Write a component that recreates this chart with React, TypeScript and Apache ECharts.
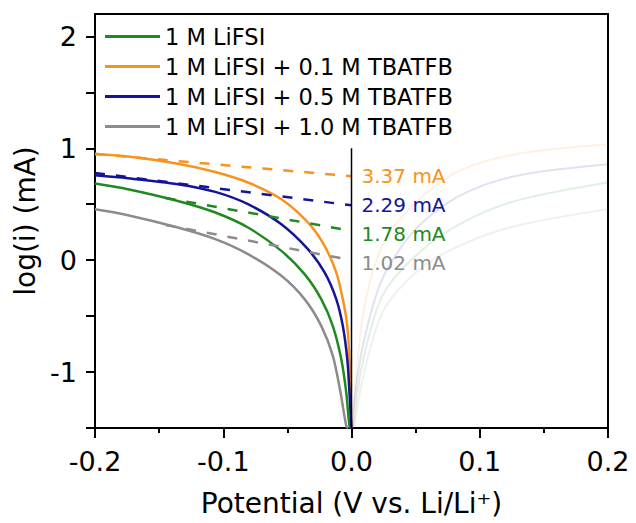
import React, { useEffect, useRef } from "react";
import * as echarts from "echarts";

// ---- data (potential V, log(i) mA) ----
const seriesNames = [
  "1 M LiFSI",
  "1 M LiFSI + 0.1 M TBATFB",
  "1 M LiFSI + 0.5 M TBATFB",
  "1 M LiFSI + 1.0 M TBATFB",
];
const seriesColors = ["#1f8a1f", "#f7931e", "#14149a", "#8c8c8c"];

const liFSI: number[][] = [
  [-0.2, 0.685], [-0.1743, 0.634], [-0.1354, 0.529], [-0.1062, 0.426], [-0.0807, 0.292],
  [-0.0547, 0.083], [-0.0366, -0.125], [-0.0236, -0.348], [-0.0146, -0.587], [-0.008, -0.884],
  [-0.0041, -1.181], [-0.0016, -1.479], [0, -1.5],
];
const tb01: number[][] = [
  [-0.2, 0.946], [-0.1743, 0.926], [-0.1354, 0.862], [-0.1062, 0.788], [-0.0807, 0.694],
  [-0.0547, 0.545], [-0.034, 0.337], [-0.021, 0.128], [-0.0119, -0.11], [-0.0068, -0.348],
  [-0.0033, -0.587], [-0.0016, -0.884], [-0.0008, -1.179], [-0.0002, -1.479], [0, -1.5],
];
const tb05: number[][] = [
  [-0.2, 0.758], [-0.1743, 0.732], [-0.1354, 0.679], [-0.1062, 0.61], [-0.0807, 0.5],
  [-0.0547, 0.321], [-0.034, 0.098], [-0.021, -0.11], [-0.0119, -0.348], [-0.0068, -0.587],
  [-0.0033, -0.884], [-0.0016, -1.179], [-0.0002, -1.479], [0, -1.5],
];
const tb10: number[][] = [
  [-0.2, 0.455], [-0.1743, 0.402], [-0.1354, 0.292], [-0.1062, 0.188], [-0.0807, 0.054],
  [-0.0547, -0.14], [-0.0366, -0.348], [-0.0236, -0.587], [-0.0146, -0.854], [-0.0086, -1.181],
  [-0.0041, -1.479], [-0.0025, -1.5],
];

// Tafel extrapolation lines
const fitLiFSI: number[][] = [[-0.145, 0.556], [0, 0.262]];
const fit01: number[][] = [[-0.2, 0.95], [0, 0.75]];
const fit05: number[][] = [[-0.2, 0.78], [0, 0.49]];
const fit10: number[][] = [[-0.145, 0.315], [0, 0.0]];
const fitLabels = ["1.78 mA", "3.37 mA", "2.29 mA", "1.02 mA"];
const fitLabelShift = [3, 0, 0, 3];

// faint anodic branches
const faintLiFSI: number[][] = [
  [0.001, -1.5], [0.0088, -0.91], [0.024, -0.32], [0.05, 0.04], [0.084, 0.32], [0.128, 0.53], [0.2, 0.694],
];
const faint01: number[][] = [
  [0.0008, -1.5], [0.0088, -0.5], [0.024, 0.128], [0.05, 0.515], [0.084, 0.797], [0.128, 0.946], [0.2, 1.036],
];
const faint05: number[][] = [
  [0.0005, -1.5], [0.001, -1.36], [0.0088, -0.77], [0.024, -0.17], [0.05, 0.277], [0.084, 0.574], [0.128, 0.753], [0.2, 0.857],
];
const faint10: number[][] = [
  [0.002, -1.5], [0.0088, -1.06], [0.024, -0.47], [0.05, -0.11], [0.084, 0.128], [0.128, 0.306], [0.2, 0.455],
];

const zeroLine: number[][] = [[0, -1.5], [0, 1.0]];

const yTickValues = [-1.5, -1, -0.5, 0, 0.5, 1, 1.5, 2];
const yLabelValues = [-1, 0, 1, 2];

const FONT = "DejaVu Sans";

export default function App() {
  const ref = useRef<HTMLDivElement>(null);
  useEffect(() => {
    if (!ref.current) return;
    const chart = echarts.init(ref.current, null, { renderer: "svg" });
    const solid = [liFSI, tb01, tb05, tb10];
    const fits = [fitLiFSI, fit01, fit05, fit10];
    const faint = [faintLiFSI, faint01, faint05, faint10];

    const series: any[] = [];
    faint.forEach((d, i) => {
      series.push({
        name: "faint" + i,
        type: "line",
        data: d,
        showSymbol: false,
        symbol: "none",
        smooth: 0.3,
        silent: true,
        lineStyle: { color: seriesColors[i], width: 2, opacity: 0.13 },
      });
    });
    solid.forEach((d, i) => {
      series.push({
        name: seriesNames[i],
        type: "line",
        data: d,
        showSymbol: false,
        symbol: "none",
        smooth: 0.3,
        color: seriesColors[i],
        lineStyle: { color: seriesColors[i], width: 2.5 },
      });
    });
    fits.forEach((d, i) => {
      series.push({
        name: "fit" + i,
        type: "line",
        data: d,
        showSymbol: false,
        symbol: "none",
        silent: true,
        lineStyle: { color: seriesColors[i], width: 2.5, type: [10, 11] },
        endLabel: {
          show: true,
          formatter: () => fitLabels[i],
          color: seriesColors[i],
          fontSize: 20,
          fontFamily: FONT,
          distance: 10,
          offset: [0, fitLabelShift[i]],
        },
      });
    });
    series.push({
      name: "zero",
      type: "line",
      data: zeroLine,
      showSymbol: false,
      symbol: "none",
      silent: true,
      lineStyle: { color: "#000", width: 1.5 },
    });

    chart.setOption({
      animation: false,
      backgroundColor: "#fff",
      grid: {
        left: 95,
        right: 28,
        top: 14,
        bottom: 95,
        show: true,
        borderColor: "#000",
        borderWidth: 2,
        backgroundColor: "transparent",
      },
      legend: {
        data: seriesNames,
        orient: "vertical",
        left: 105,
        top: 25,
        padding: 0,
        itemWidth: 55,
        itemHeight: 3,
        itemGap: 7,
        icon: "rect",
        selectedMode: false,
        textStyle: { fontSize: 22.5, color: "#000", fontFamily: FONT },
      },
      xAxis: {
        type: "value",
        min: -0.2,
        max: 0.2,
        interval: 0.1,
        name: "Potential (V vs. Li/Li⁺)",
        nameLocation: "middle",
        nameGap: 61,
        nameTextStyle: { fontSize: 28, color: "#000", fontFamily: FONT },
        axisLine: { show: true, onZero: false, lineStyle: { color: "#000", width: 2 } },
        axisTick: { show: true, length: 10, lineStyle: { color: "#000", width: 2 } },
        minorTick: { show: true, splitNumber: 2, length: 5, lineStyle: { color: "#000", width: 2 } },
        splitLine: { show: false },
        axisLabel: {
          fontSize: 27,
          color: "#000",
          fontFamily: FONT,
          margin: 20,
          formatter: (v: number) => (Math.abs(v) < 1e-9 ? 0 : v).toFixed(1),
        },
      },
      yAxis: {
        type: "value",
        min: -1.5,
        max: 2.2,
        name: "log(i) (mA)",
        nameLocation: "middle",
        nameRotate: 90,
        nameGap: 52,
        nameTextStyle: { fontSize: 28, color: "#000", fontFamily: FONT },
        axisLine: { show: true, onZero: false, lineStyle: { color: "#000", width: 2 } },
        axisTick: { show: true, length: 9, customValues: yTickValues, lineStyle: { color: "#000", width: 2 } },
        splitLine: { show: false },
        axisLabel: {
          fontSize: 27,
          color: "#000",
          fontFamily: FONT,
          margin: 18,
          customValues: yLabelValues,
          formatter: (v: number) => String(Math.round(v)),
        },
      },
      series,
    });
    return () => chart.dispose();
  }, []);
  return (
    <div
      ref={ref}
      style={{ position: "fixed", left: 0, top: 0, width: 636, height: 523, background: "#fff" }}
    />
  );
}
